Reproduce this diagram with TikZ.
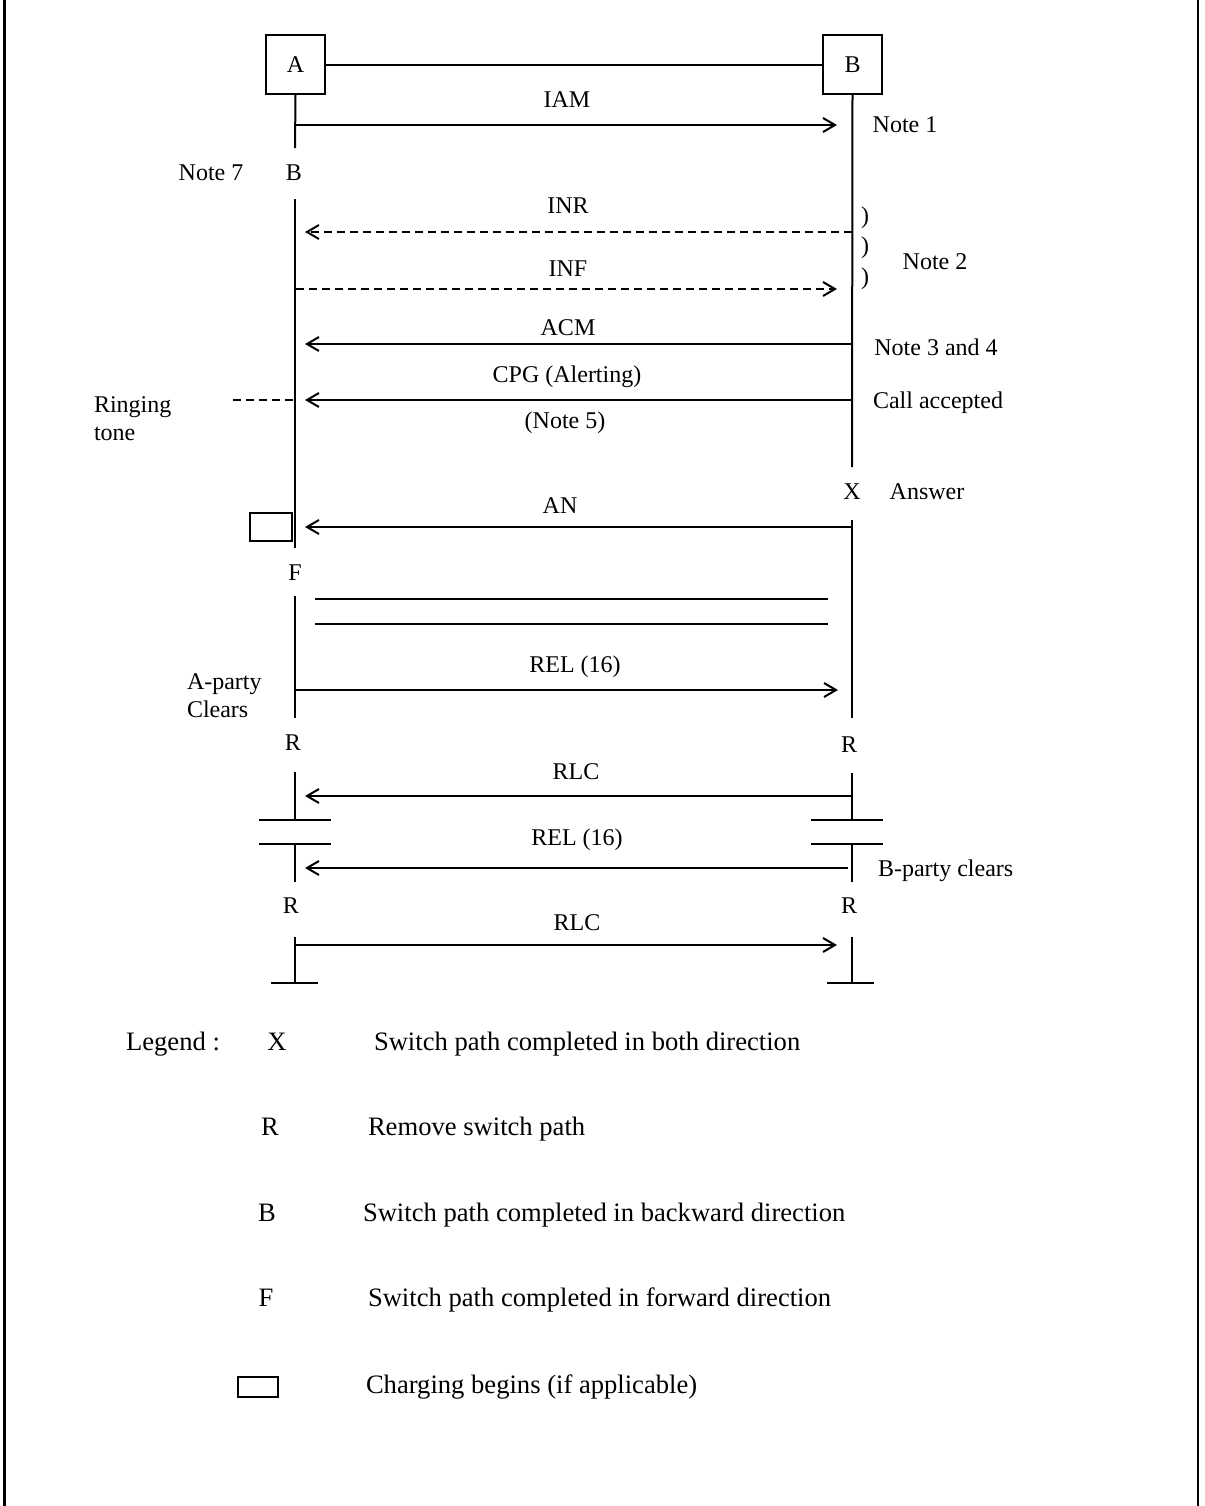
\documentclass[tikz,border=0pt]{standalone}
\usepackage{fontspec}
\setmainfont{Liberation Serif}
\usetikzlibrary{arrows.meta,calc}
\begin{document}
\begin{tikzpicture}[x=0.5pt,y=-0.5pt,line width=1pt,
  lbl/.style={inner sep=0pt,font=\fontsize{12}{14}\selectfont},
  leg/.style={inner sep=0pt,anchor=base,font=\fontsize{13.3}{16}\selectfont},
  msg/.style={-{Straight Barb[length=6pt,width=7pt,line width=1pt]}},
  dmsg/.style={msg,dash pattern=on 4pt off 2.5pt},
  ringdash/.style={dash pattern=on 4pt off 2.5pt},
  entity/.style={draw,minimum width=29.5pt,minimum height=29.5pt,inner sep=0pt,font=\fontsize{12}{14}\selectfont},
  chargebox/.style={draw,minimum width=21pt,minimum height=14pt,inner sep=0pt},
  frameline/.style={line width=1.5pt}
]
\useasboundingbox (0,0) rectangle (1205,1506);
% frame
\coordinate (fl1) at (4,0); \coordinate (fl2) at (4,1506);
\coordinate (fr1) at (1198,0); \coordinate (fr2) at (1198,1506);
\draw[frameline] (fl1) -- (fl2);
\draw (fr1) -- (fr2);

% entities
\node[entity] (A) at (295.5,64.5) {A};
\node[entity] (B) at (852.5,64.5) {B};
\draw (A.east) -- (B.west);

% lifeline coordinates A
\coordinate (a1e) at (295,148);
\coordinate (a2s) at (295,199); \coordinate (a2e) at (295,548);
\coordinate (a3s) at (295,596); \coordinate (a3e) at (295,718);
\coordinate (a4s) at (295,772); \coordinate (a4e) at (295,820);
\coordinate (a5s) at (295,844); \coordinate (a5e) at (295,882);
\coordinate (a6s) at (295,937); \coordinate (a6e) at (295,983);
% lifeline coordinates B
\coordinate (b1e) at (852,467);
\coordinate (b2s) at (852,520); \coordinate (b2e) at (852,718);
\coordinate (b4s) at (852,773); \coordinate (b4e) at (852,820);
\coordinate (b5s) at (852,844); \coordinate (b5e) at (852,882);
\coordinate (b6s) at (852,937); \coordinate (b6e) at (852,983);

\draw (A.south) -- (a1e);
\draw (a2s) -- (a2e);
\draw (a3s) -- (a3e);
\draw (a4s) -- (a4e);
\draw (a5s) -- (a5e);
\draw (a6s) -- (a6e);
\draw (B.south) -- (b1e);
\draw (b2s) -- (b2e);
\draw (b4s) -- (b4e);
\draw (b5s) -- (b5e);
\draw (b6s) -- (b6e);

% capacitor plates and bottom bars
\coordinate (pa1l) at (259,820); \coordinate (pa1r) at (331,820);
\coordinate (pa2l) at (259,844); \coordinate (pa2r) at (331,844);
\coordinate (pb1l) at (811,820); \coordinate (pb1r) at (883,820);
\coordinate (pb2l) at (811,844); \coordinate (pb2r) at (883,844);
\draw (pa1l) -- (pa1r); \draw (pa2l) -- (pa2r);
\draw (pb1l) -- (pb1r); \draw (pb2l) -- (pb2r);
\coordinate (ta1) at (271,983); \coordinate (ta2) at (318,983);
\coordinate (tb1) at (827,983); \coordinate (tb2) at (874,983);
\draw (ta1) -- (ta2); \draw (tb1) -- (tb2);

% messages
\coordinate (iamA) at (295,125); \coordinate (iamB) at (837,125);
\draw[msg] (iamA) -- (iamB);
\node[lbl] (liam) at (567,100) {IAM};

\coordinate (inrB) at (852,232); \coordinate (inrA) at (305,232);
\draw[dmsg] (inrB) -- (inrA);
\node[lbl] (linr) at (568,206) {INR};

\coordinate (infA) at (296,289); \coordinate (infB) at (837,289);
\draw[dmsg] (infA) -- (infB);
\node[lbl] (linf) at (568,269) {INF};

\coordinate (acmB) at (852,344); \coordinate (acmA) at (305,344);
\draw[msg] (acmB) -- (acmA);
\node[lbl] (lacm) at (568,328) {ACM};

\coordinate (cpgB) at (852,400); \coordinate (cpgA) at (305,400);
\draw[msg] (cpgB) -- (cpgA);
\node[lbl] (lcpg) at (567,377) {CPG (Alerting)};
\node[lbl] (lnote5) at (565,423) {(Note 5)};
\coordinate (ring1) at (233,400); \coordinate (ring2) at (295,400);
\draw[ringdash] (ring1) -- (ring2);

\coordinate (anB) at (852,527); \coordinate (anA) at (305,527);
\draw[msg] (anB) -- (anA);
\node[lbl] (lan) at (560,506) {AN};
\node[chargebox] (cb) at (271,527) {};

% double lines
\coordinate (d1l) at (315,599); \coordinate (d1r) at (828,599);
\coordinate (d2l) at (315,624); \coordinate (d2r) at (828,624);
\draw (d1l) -- (d1r);
\draw (d2l) -- (d2r);

\coordinate (rel1A) at (295,690); \coordinate (rel1B) at (838,690);
\draw[msg] (rel1A) -- (rel1B);
\node[lbl] (lrel1) at (575,667) {REL (16)};

\coordinate (rlc1B) at (852,796); \coordinate (rlc1A) at (305,796);
\draw[msg] (rlc1B) -- (rlc1A);
\node[lbl] (lrlc1) at (576,772) {RLC};

\coordinate (rel2B) at (848,868); \coordinate (rel2A) at (305,868);
\draw[msg] (rel2B) -- (rel2A);
\node[lbl] (lrel2) at (577,840) {REL (16)};

\coordinate (rlc2A) at (295,945); \coordinate (rlc2B) at (837,945);
\draw[msg] (rlc2A) -- (rlc2B);
\node[lbl] (lrlc2) at (577,923) {RLC};

% side labels
\node[lbl] (n1) at (905,125) {Note 1};
\node[lbl] (n7) at (211,173) {Note 7};
\node[lbl] (bA) at (294,173) {B};
\node[lbl] (p1) at (865,218) {)};
\node[lbl] (p2) at (865,248) {)};
\node[lbl] (p3) at (865,279) {)};
\node[lbl] (n2) at (935,262) {Note 2};
\node[lbl] (n34) at (936,347) {Note 3 and 4};
\node[lbl] (ca) at (938,403) {Call accepted};
\node[lbl,align=left,anchor=west] (rt) at (93,419) {Ringing\\tone};
\node[lbl] (xB) at (852,492) {X};
\node[lbl] (ans) at (927,492) {Answer};
\node[lbl] (fA) at (295,573) {F};
\node[lbl,align=left,anchor=west] (apc) at (186,696) {A-party\\Clears};
\node[lbl] (r1A) at (293,743) {R};
\node[lbl] (r1B) at (849,745) {R};
\node[lbl,anchor=west] (bpc) at (877,871) {B-party clears};
\node[lbl] (r2A) at (291,906) {R};
\node[lbl] (r2B) at (849,906) {R};

% legend (baseline aligned)
\node[leg] (lg) at (173,1050) {Legend :};
\node[leg] (lgx) at (277,1050) {X};
\node[leg,anchor=base west] (lgxt) at (373,1050) {Switch path completed in both direction};
\node[leg] (lgr) at (270,1135) {R};
\node[leg,anchor=base west] (lgrt) at (367,1135) {Remove switch path};
\node[leg] (lgb) at (267,1221) {B};
\node[leg,anchor=base west] (lgbt) at (362,1221) {Switch path completed in backward direction};
\node[leg] (lgf) at (266,1306) {F};
\node[leg,anchor=base west] (lgft) at (367,1306) {Switch path completed in forward direction};
\node[chargebox,minimum width=20pt,minimum height=10pt] (lgc) at (258,1387) {};
\node[leg,anchor=base west] (lgct) at (365,1393) {Charging begins (if applicable)};
\end{tikzpicture}
\end{document}
